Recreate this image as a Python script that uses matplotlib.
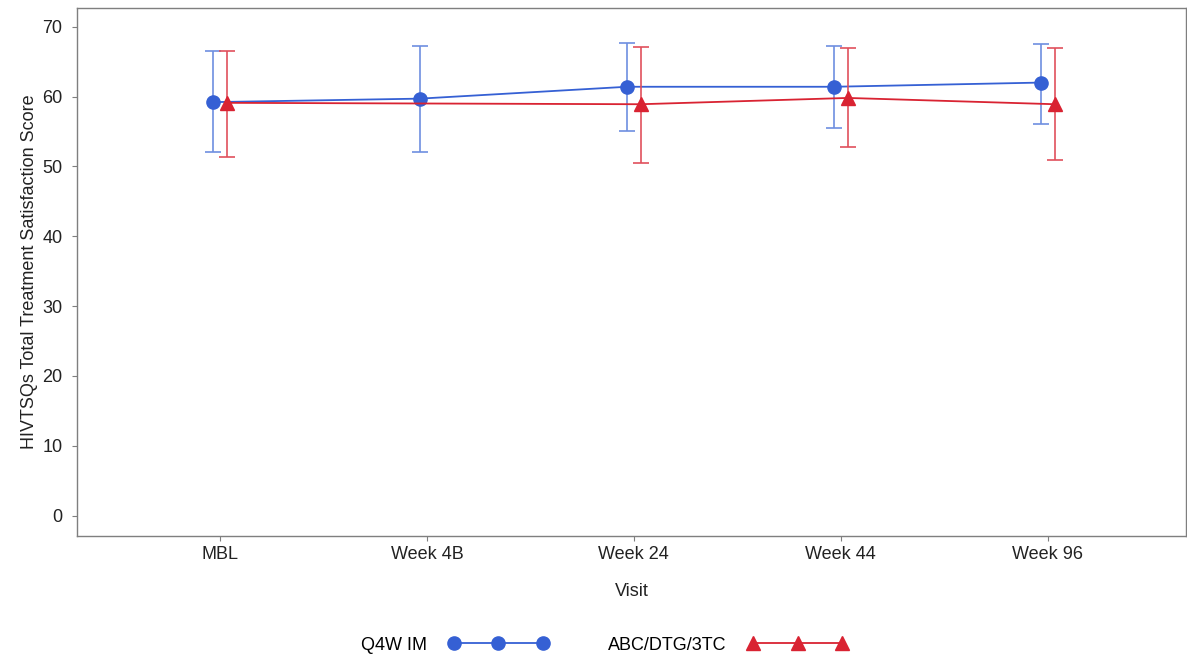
import matplotlib.pyplot as plt
import numpy as np

plt.rcParams['font.family'] = ['Liberation Sans', 'DejaVu Sans']

visits = ["MBL", "Week 4B", "Week 24", "Week 44", "Week 96"]

# Q4W IM (all visits)
q4w_mean = [59.2, 59.7, 61.4, 61.4, 62.0]
q4w_low = [52.0, 52.0, 55.1, 55.5, 56.1]
q4w_high = [66.5, 67.2, 67.7, 67.2, 67.5]

# ABC/DTG/3TC (no Week 4B value)
abc_idx = [0, 2, 3, 4]
abc_mean = [59.1, 58.9, 59.8, 58.9]
abc_low = [51.4, 50.5, 52.8, 50.9]
abc_high = [66.5, 67.1, 66.9, 66.9]

blue = "#3560d4"
red = "#d92332"
dodge = 0.034
fs = 13

fig = plt.figure(figsize=(11.87, 6.55), dpi=100)
ax = fig.add_axes([0.065, 0.182, 0.934, 0.806])

x = np.arange(len(visits))
xb = x - dodge
xr = np.array(abc_idx) + dodge

qm = np.array(q4w_mean)
am = np.array(abc_mean)

ax.errorbar(xb, qm, yerr=[qm - np.array(q4w_low), np.array(q4w_high) - qm],
            fmt="none", ecolor="#6e8fe0", elinewidth=1.2, capsize=5.5, capthick=1.2, zorder=2)
ax.plot(xb, qm, color=blue, lw=1.3, marker="o", ms=9.5, zorder=3, label="Q4W IM")

ax.errorbar(xr, am, yerr=[am - np.array(abc_low), np.array(abc_high) - am],
            fmt="none", ecolor="#e0505c", elinewidth=1.2, capsize=5.5, capthick=1.2, zorder=4)
ax.plot(xr, am, color=red, lw=1.3, marker="^", ms=9.5, zorder=5, label="ABC/DTG/3TC")

ax.set_xlim(-0.69, 4.667)
ax.set_ylim(-2.9, 72.7)
ax.set_xticks(x)
ax.set_xticklabels(visits)
ax.set_yticks(np.arange(0, 71, 10))

for s in ax.spines.values():
    s.set_color("#7f7f7f")
    s.set_linewidth(1.0)
ax.tick_params(direction="out", length=3.5, color="#7f7f7f", labelsize=fs, labelcolor="#222222")
ax.tick_params(axis="y", pad=7)

ax.set_xlabel("Visit", fontsize=fs, color="#222222", labelpad=15)
ax.set_ylabel("HIVTSQs Total Treatment Satisfaction Score", fontsize=fs, color="#222222", labelpad=3)

fig.legend(loc="center", bbox_to_anchor=(0.509, 0.015), ncol=2, frameon=False,
           numpoints=3, markerfirst=False, handlelength=5.5, handletextpad=1.2,
           columnspacing=3.3, fontsize=fs)

fig.savefig("out.png", dpi=100)
